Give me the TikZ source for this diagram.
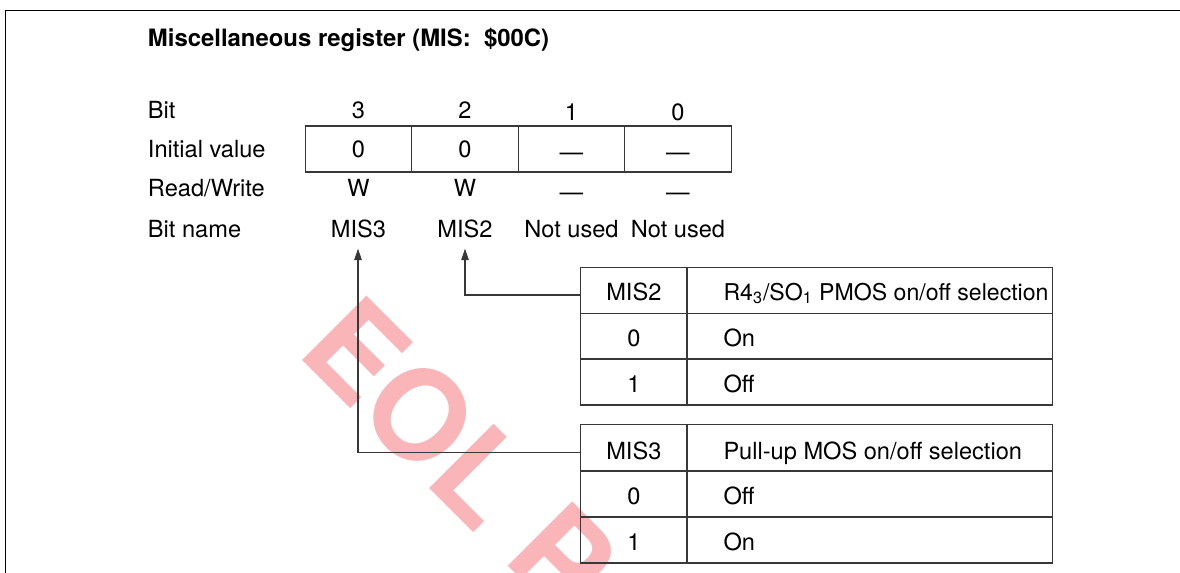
\documentclass[tikz,border=0pt]{standalone}
\usepackage{fontspec}
\setmainfont{TeX Gyre Heros}
\usetikzlibrary{arrows.meta}
\definecolor{wmcol}{RGB}{249,181,183}
\begin{document}
\begin{tikzpicture}[x=0.5pt,y=-0.5pt,
  every node/.style={inner sep=0pt, outer sep=0pt, font=\fontsize{11.8}{14}\selectfont},
  lbl/.style={anchor=base west},
  ctr/.style={anchor=base},
  linecol/.style={draw=black!78, line width=0.65pt},
  regcell/.style={linecol, minimum width=53.25pt, minimum height=23pt},
  keycell/.style={linecol, minimum width=53.15pt, minimum height=22.95pt},
  desccell/.style={linecol, minimum width=182.85pt, minimum height=22.95pt},
  conn/.style={draw=black!78, line width=0.65pt, -{Triangle[length=5.85pt,width=3.7pt]}},
  wmark/.style={rotate=-45, anchor=base west, text=wmcol, font=\fontsize{62.5}{62.5}\bfseries\selectfont}
]
\useasboundingbox (0,0) rectangle (1180,573);
% watermark
\begin{scope}
\clip (0,0) rectangle (1180,573);
\node[wmark] (wm) at (295,353.3) {EOL P};
\end{scope}
% frame
\coordinate (fbl) at (5.7,573);
\coordinate (ftl) at (5.7,10.7);
\coordinate (ftr) at (1180,10.7);
\draw[black, line width=0.7pt] (fbl) -- (ftl) -- (ftr);
% title
\node[lbl, font=\fontsize{11.95}{14}\bfseries\selectfont] (title) at (148,46.7) {Miscellaneous register (MIS:\ \ \$00C)};
% row labels
\node[lbl] (lbit) at (148,118.3) {Bit};
\node[lbl] (linit) at (148,157.3) {Initial value};
\node[lbl] (lrw) at (148,196.8) {Read/Write};
\node[lbl] (lname) at (148,237.3) {Bit name};
% bit numbers
\node[ctr] (b3) at (358.5,118.3) {3};
\node[ctr] (b2) at (465,118.3) {2};
\node[ctr] (b1) at (571.5,120.8) {1};
\node[ctr] (b0) at (678,120.8) {0};
% register cells
\node[regcell] (r3) at (358.5,149) {};
\node[regcell] (r2) at (465,149) {};
\node[regcell] (r1) at (571.5,149) {};
\node[regcell] (r0) at (678,149) {};
\node[ctr] (v3) at (358.5,157.8) {0};
\node[ctr] (v2) at (465,157.8) {0};
\node[ctr] (v1) at (571.5,160.5) {---};
\node[ctr] (v0) at (678,160.5) {---};
% read/write
\node[ctr] (w3) at (358.5,196.8) {W};
\node[ctr] (w2) at (465,196.8) {W};
\node[ctr] (w1) at (571.5,200.3) {---};
\node[ctr] (w0) at (678,200.3) {---};
% bit names
\node[ctr] (n3) at (358.5,237.5) {MIS3};
\node[ctr] (n2) at (465,237.5) {MIS2};
\node[ctr] (n1) at (571.5,237.5) {Not used};
\node[ctr] (n0) at (678,237.5) {Not used};
% table 1 (MIS2)
\node[keycell] (ak0) at (633.85,290.25) {};
\node[keycell] (ak1) at (633.85,336.15) {};
\node[keycell] (ak2) at (633.85,382.05) {};
\node[desccell] (ad0) at (869.85,290.25) {};
\node[desccell] (ad1) at (869.85,336.15) {};
\node[desccell] (ad2) at (869.85,382.05) {};
\node[ctr] (akt0) at (633.85,300.2) {MIS2};
\node[ctr] (akt1) at (633.85,346) {0};
\node[ctr] (akt2) at (633.85,392) {1};
\node[lbl, font=\fontsize{11.55}{14}\selectfont] (adt0) at (723.5,300.2) {R4\textsubscript{3}/SO\textsubscript{1} PMOS on/off selection};
\node[lbl] (adt1) at (723.5,346) {On};
\node[lbl] (adt2) at (723.5,392) {Off};
% table 2 (MIS3)
\node[keycell] (bk0) at (633.85,447.75) {};
\node[keycell] (bk1) at (633.85,493.85) {};
\node[keycell] (bk2) at (633.85,539.95) {};
\node[desccell] (bd0) at (869.85,447.75) {};
\node[desccell] (bd1) at (869.85,493.85) {};
\node[desccell] (bd2) at (869.85,539.95) {};
\node[ctr] (bkt0) at (633.85,459) {MIS3};
\node[ctr] (bkt1) at (633.85,504.5) {0};
\node[ctr] (bkt2) at (633.85,550.5) {1};
\node[lbl] (bdt0) at (723.5,459) {Pull-up MOS on/off selection};
\node[lbl] (bdt1) at (723.5,504.5) {Off};
\node[lbl] (bdt2) at (723.5,550.5) {On};
% connectors
\draw[conn] ([yshift=-2.4pt]ak0.west) -| ([yshift=-5.25pt]n2.south);
\draw[conn] ([yshift=-2.5pt]bk0.west) -| ([yshift=-5.25pt,xshift=-0.25pt]n3.south);
\end{tikzpicture}
\end{document}
